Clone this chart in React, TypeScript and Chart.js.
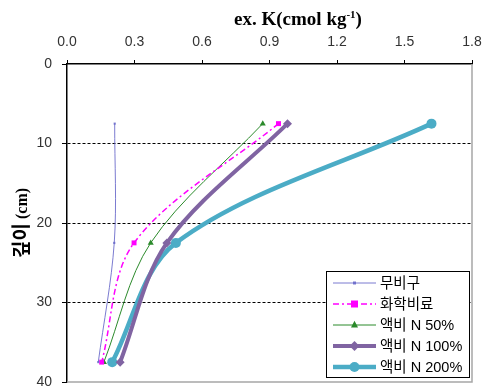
import React, { useEffect, useRef } from "react";
import { Chart, registerables } from "chart.js";

Chart.register(...registerables);

const depths = [7.5, 22.5, 37.5];
const seriesNames = ["무비구", "화학비료", "액비 N 50%", "액비 N 100%", "액비 N 200%"];
const noFert = [0.212, 0.21, 0.139];
const chemFert = [0.94, 0.298, 0.154];
const lf50 = [0.87, 0.372, 0.164];
const lf100 = [0.98, 0.444, 0.236];
const lf200 = [1.62, 0.484, 0.201];
const xTicks = [0, 0.3, 0.6, 0.9, 1.2, 1.5, 1.8];
const yTicks = [0, 10, 20, 30, 40];

const seriesValues = [noFert, chemFert, lf50, lf100, lf200];
const seriesColors = ["rgba(100,100,200,0.85)", "#ff00ff", "#2b8a2b", "#8064a2", "#4bacc6"];
const seriesWidths = [1, 1.5, 1, 4, 4.5];
const seriesDash = [[], [6, 3, 2, 3], [], [], []];
const seriesPoint = ["rect", "rect", "triangle", "rectRot", "circle"];
const seriesRadius = [1.5, 3.5, 3.5, 4.5, 5];

function drawMarker(ctx: CanvasRenderingContext2D, style: string, x: number, y: number, r: number, color: string) {
  ctx.save();
  ctx.fillStyle = color;
  ctx.beginPath();
  if (style === "circle") {
    ctx.arc(x, y, r, 0, Math.PI * 2);
  } else if (style === "rect") {
    ctx.rect(x - r, y - r, 2 * r, 2 * r);
  } else if (style === "triangle") {
    ctx.moveTo(x, y - r * 1.2);
    ctx.lineTo(x + r, y + r * 0.7);
    ctx.lineTo(x - r, y + r * 0.7);
    ctx.closePath();
  } else if (style === "rectRot") {
    ctx.moveTo(x, y - r * 1.1);
    ctx.lineTo(x + r * 1.1, y);
    ctx.lineTo(x, y + r * 1.1);
    ctx.lineTo(x - r * 1.1, y);
    ctx.closePath();
  }
  ctx.fill();
  ctx.restore();
}

const decorPlugin = {
  id: "decor",
  afterDraw(chart: any) {
    const ctx: CanvasRenderingContext2D = chart.ctx;
    const ca = chart.chartArea;
    ctx.save();
    // right & bottom gray frame
    ctx.strokeStyle = "#a6a6a6";
    ctx.lineWidth = 1.5;
    ctx.beginPath();
    ctx.moveTo(ca.right, ca.top);
    ctx.lineTo(ca.right, ca.bottom);
    ctx.lineTo(ca.left, ca.bottom);
    ctx.stroke();

    // title with superscript
    const fMain = "bold 19px 'Liberation Serif', 'Times New Roman', serif";
    const fSup = "bold 11px 'Liberation Serif', 'Times New Roman', serif";
    const p1 = "ex. K(cmol kg";
    const p2 = "-1";
    const p3 = ")";
    ctx.fillStyle = "#000";
    ctx.textBaseline = "alphabetic";
    ctx.font = fMain;
    const w1 = ctx.measureText(p1).width;
    const w3 = ctx.measureText(p3).width;
    ctx.font = fSup;
    const w2 = ctx.measureText(p2).width;
    const total = w1 + w2 + w3;
    const cx = 298;
    const base = 25;
    let x = cx - total / 2;
    ctx.textAlign = "left";
    ctx.font = fMain;
    ctx.fillText(p1, x, base);
    x += w1;
    ctx.font = fSup;
    ctx.fillText(p2, x, base - 7);
    x += w2;
    ctx.font = fMain;
    ctx.fillText(p3, x, base);

    // y title rotated
    ctx.save();
    ctx.translate(28, 258);
    ctx.rotate(-Math.PI / 2);
    ctx.textAlign = "left";
    ctx.textBaseline = "alphabetic";
    const fKo = "bold 19px 'Noto Sans CJK KR', sans-serif";
    const fCm = "bold 16px 'Liberation Serif', serif";
    ctx.font = fKo;
    ctx.fillText("깊이", 0, 0);
    const wk = ctx.measureText("깊이").width + 4;
    ctx.font = fCm;
    ctx.fillText("(cm)", wk, -1);
    ctx.restore();

    // legend
    const lx = 326, ly = 271, lw = 143, lh = 106;
    ctx.fillStyle = "#fff";
    ctx.fillRect(lx, ly, lw, lh);
    ctx.strokeStyle = "#000";
    ctx.lineWidth = 1;
    ctx.strokeRect(lx + 0.5, ly + 0.5, lw, lh);
    const rows = [283, 304, 325, 346, 367];
    chart.data.datasets.forEach((ds: any, i: number) => {
      const y = rows[i];
      ctx.save();
      ctx.strokeStyle = ds.borderColor;
      ctx.lineWidth = ds.borderWidth;
      ctx.setLineDash(ds.borderDash || []);
      ctx.beginPath();
      ctx.moveTo(333, y);
      ctx.lineTo(376, y);
      ctx.stroke();
      ctx.restore();
      drawMarker(ctx, ds.pointStyle, 354.5, y, ds.pointRadius, ds.pointBackgroundColor);
      ctx.fillStyle = "#000";
      ctx.font = "14.5px 'Liberation Sans', 'Noto Sans CJK KR', sans-serif";
      ctx.textAlign = "left";
      ctx.textBaseline = "middle";
      ctx.fillText(ds.label, 380, y + 1);
    });
    ctx.restore();
  },
};

export default function App() {
  const ref = useRef<HTMLCanvasElement | null>(null);
  useEffect(() => {
    if (!ref.current) return;
    const datasets = seriesNames.map((name, i) => ({
      label: name,
      data: depths.map((d, j) => ({ x: seriesValues[i][j], y: d })),
      borderColor: seriesColors[i],
      backgroundColor: seriesColors[i],
      pointBackgroundColor: seriesColors[i],
      pointBorderColor: seriesColors[i],
      borderWidth: seriesWidths[i],
      borderDash: seriesDash[i],
      pointStyle: seriesPoint[i],
      pointRadius: seriesRadius[i],
      pointBorderWidth: 0,
      tension: 0.33,
      fill: false,
    }));
    const chart = new Chart(ref.current, {
      type: "line",
      data: { datasets },
      options: {
        animation: false,
        responsive: false,
        maintainAspectRatio: false,
        layout: { padding: { left: 0, right: 16, top: 0, bottom: 6 } },
        plugins: { legend: { display: false }, tooltip: { enabled: false }, title: { display: false } },
        scales: {
          x: {
            type: "linear",
            position: "top",
            min: 0,
            max: 1.8,
            afterBuildTicks: (scale: any) => {
              scale.ticks = xTicks.map((v) => ({ value: v }));
            },
            ticks: {
              callback: (v: any) => Number(v).toFixed(1),
              color: "#333",
              font: { family: "'Liberation Sans', Arial, sans-serif", size: 14 },
              padding: 9,
              maxRotation: 0,
              autoSkip: false,
            },
            grid: {
              drawOnChartArea: false,
              drawTicks: true,
              tickLength: 4,
              tickColor: "#000",
              tickWidth: 1,
            },
            border: { display: true, color: "#000", width: 1.5 },
            afterFit: (scale: any) => {
              scale.height = 64;
              scale.paddingLeft = 0;
              scale.paddingRight = 0;
            },
          },
          y: {
            type: "linear",
            reverse: true,
            min: 0,
            max: 40,
            afterBuildTicks: (scale: any) => {
              scale.ticks = yTicks.map((v) => ({ value: v }));
            },
            ticks: {
              color: "#333",
              font: { family: "'Liberation Sans', Arial, sans-serif", size: 14 },
              padding: 10,
              autoSkip: false,
            },
            grid: {
              drawOnChartArea: true,
              color: (c: any) => (c.tick && (c.tick.value === 0 || c.tick.value === 40) ? "rgba(0,0,0,0)" : "#000"),
              lineWidth: 1,
              drawTicks: true,
              tickLength: 5,
              tickColor: "#000",
              tickWidth: 1,
              tickBorderDash: [],
            },
            border: { display: true, color: "#000", width: 1.5, dash: [3, 2] },
            afterFit: (scale: any) => {
              scale.width = 67;
              scale.paddingTop = 0;
              scale.paddingBottom = 0;
            },
          },
        },
      },
      plugins: [decorPlugin],
    } as any);
    return () => chart.destroy();
  }, []);
  return (
    <div style={{ position: "absolute", left: 0, top: 0, width: 488, height: 388, background: "#fff" }}>
      <canvas ref={ref} width={488} height={388} style={{ width: 488, height: 388 }} />
    </div>
  );
}
